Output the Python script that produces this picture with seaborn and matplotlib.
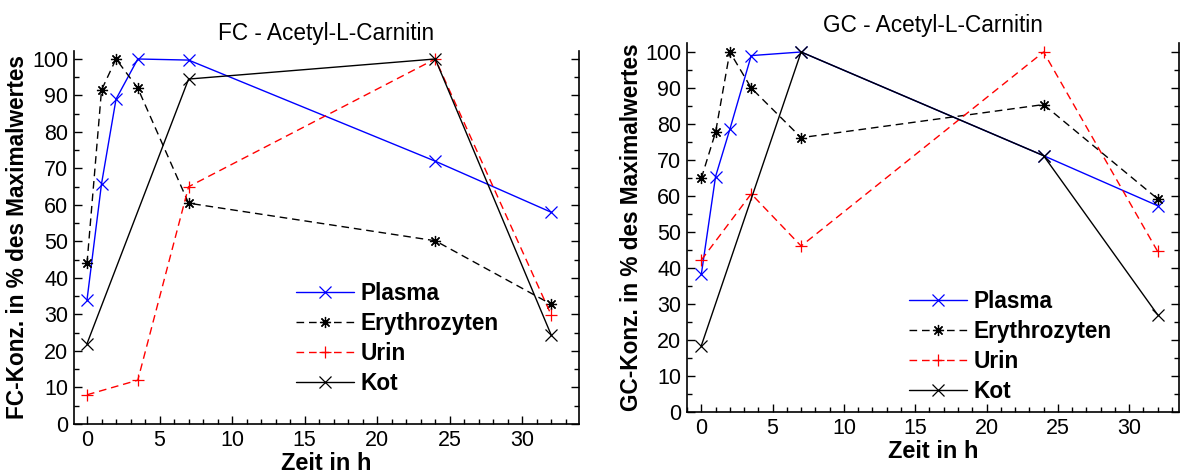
import numpy as np
import pandas as pd
import matplotlib
matplotlib.use("Agg")
import matplotlib.pyplot as plt
import seaborn as sns
from matplotlib.ticker import MultipleLocator

# Zeitpunkte (h)
t_all = [0, 1, 2, 3.5, 7, 24, 32]
t_urin = [0, 3.5, 7, 24, 32]
t_kot = [0, 7, 24, 32]

# FC - Acetyl-L-Carnitin (% des Maximalwertes)
fc_plasma = [34, 65.8, 89, 100, 99.7, 72, 58]
fc_erythro = [44, 91.5, 100, 92, 60.5, 50.2, 32.8]
fc_urin = [8, 12, 65, 100, 29.8]
fc_kot = [22, 94.5, 100, 24.3]

# GC - Acetyl-L-Carnitin (% des Maximalwertes)
gc_plasma = [38.2, 65.4, 78.5, 99, 100, 71.2, 57.3]
gc_erythro = [64.9, 77.7, 100, 90, 76.2, 85.4, 59.2]
gc_urin = [42.2, 60.6, 46.1, 100, 44.6]
gc_kot = [18.4, 100, 71.2, 27]

labels = ["Plasma", "Erythrozyten", "Urin", "Kot"]

sns.set_theme(style="ticks")
plt.rcParams["font.family"] = ["Liberation Sans", "DejaVu Sans"]
plt.rcParams["text.color"] = "black"
plt.rcParams["axes.labelcolor"] = "black"
plt.rcParams["xtick.color"] = "black"
plt.rcParams["ytick.color"] = "black"

fig = plt.figure(figsize=(11.87, 4.74), dpi=100)
ax1 = fig.add_axes([0.0623, 0.1055, 0.4254, 0.787])
ax2 = fig.add_axes([0.5788, 0.1308, 0.4145, 0.7785])

asterisk = (8, 2, 0)
styles = [
    dict(color="blue", linestyle="-", marker="x", ms=9),
    dict(color="black", linestyle=(0, (5.5, 3.5)), marker=asterisk, ms=8),
    dict(color="red", linestyle=(0, (5.5, 3.5)), marker="+", ms=9),
    dict(color="black", linestyle="-", marker="x", ms=9),
]


def draw(ax, series, title, ylabel, ylim, xlim, leg_anchor):
    xs = [t_all, t_all, t_urin, t_kot]
    for x, y, lab, st in zip(xs, series, labels, styles):
        df = pd.DataFrame({"Zeit": x, "Wert": y})
        sns.lineplot(data=df, x="Zeit", y="Wert", ax=ax, label=lab,
                     linewidth=1.0, markersize=st["ms"], markeredgewidth=0.9,
                     color=st["color"], markeredgecolor=st["color"],
                     markerfacecolor=st["color"],
                     linestyle=st["linestyle"],
                     marker=st["marker"], estimator=None, sort=False)
    ax.set_xlim(*xlim)
    ax.set_ylim(*ylim)
    ax.xaxis.set_major_locator(MultipleLocator(5))
    ax.xaxis.set_minor_locator(MultipleLocator(1))
    ax.yaxis.set_major_locator(MultipleLocator(10))
    ax.yaxis.set_minor_locator(MultipleLocator(5))
    ax.tick_params(which="both", direction="in", right=True, top=False,
                   labelsize=15.5, width=1.0, color="black", pad=4)
    ax.tick_params(which="major", length=6)
    ax.tick_params(which="minor", length=3.5)
    for s in ["left", "right", "bottom"]:
        ax.spines[s].set_linewidth(1.2)
        ax.spines[s].set_color("black")
    ax.spines["top"].set_visible(False)
    ax.set_title(title, fontsize=16.3, pad=8)
    ax.set_xlabel("Zeit in h", fontsize=17, fontweight="bold", labelpad=1)
    ax.set_ylabel(ylabel, fontsize=16.3, fontweight="bold", labelpad=2)
    leg = ax.legend(loc="upper left", bbox_to_anchor=leg_anchor, frameon=False,
                    numpoints=1, handlelength=2.55, handletextpad=0.3,
                    labelspacing=0.3, borderaxespad=0, borderpad=0,
                    prop={"size": 16.3, "weight": "bold"})
    return leg


draw(ax1, [fc_plasma, fc_erythro, fc_urin, fc_kot], "FC - Acetyl-L-Carnitin",
     "FC-Konz. in % des Maximalwertes", (0, 102.2), (-0.9, 33.9), (0.44, 0.38))
draw(ax2, [gc_plasma, gc_erythro, gc_urin, gc_kot], "GC - Acetyl-L-Carnitin",
     "GC-Konz. in % des Maximalwertes", (0, 102.5), (-1.0, 33.5), (0.452, 0.33))

fig.savefig("out.png", dpi=100)
